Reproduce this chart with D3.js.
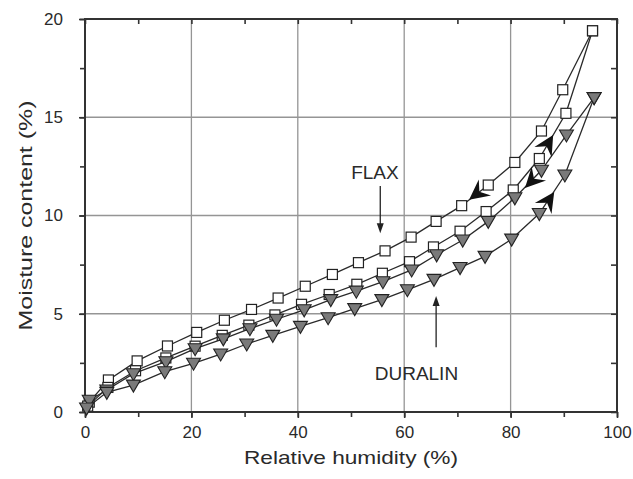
<!DOCTYPE html>
<html>
<head>
<meta charset="utf-8">
<script src="https://cdn.jsdelivr.net/npm/d3@7"></script>
<style>
  html, body { margin: 0; padding: 0; background: #fff; }
  svg { display: block; font-family: "Liberation Sans", Arial, Helvetica, sans-serif; }
</style>
</head>
<body>
<div id="chart"></div>
<script>
// relative humidity (%) / moisture content (%)
const flaxDesRH = [0.8, 4.4, 9.8, 15.5, 21, 26.2, 31.3, 36.3, 41.4, 46.5, 51.4, 56.4, 61.3, 66, 70.8, 75.8, 80.8, 85.8, 89.8, 95.4];
const flaxDesMC = [0.5, 1.63, 2.6, 3.36, 4.05, 4.67, 5.22, 5.8, 6.4, 7.0, 7.6, 8.2, 8.9, 9.7, 10.5, 11.55, 12.7, 14.3, 16.4, 19.4];

const flaxAbsRH = [0.5, 4.3, 9.5, 15.2, 20.7, 25.8, 30.8, 35.7, 40.7, 45.9, 51.1, 55.9, 61, 65.5, 70.5, 75.4, 80.5, 85.4, 90.4, 95.4];
const flaxAbsMC = [0.3, 1.25, 2.1, 2.75, 3.35, 3.9, 4.42, 4.94, 5.48, 5.98, 6.5, 7.06, 7.65, 8.4, 9.2, 10.2, 11.3, 12.9, 15.2, 19.4];

const duralinDesRH = [0.8, 4.1, 9.1, 15.2, 20.7, 26, 31, 36, 41.2, 46.2, 51, 56, 61.4, 66.1, 71, 75.8, 80.8, 85.8, 90.5, 95.7];
const duralinDesMC = [0.6, 1.12, 1.95, 2.56, 3.22, 3.72, 4.24, 4.72, 5.2, 5.72, 6.15, 6.63, 7.23, 8.0, 8.75, 9.7, 10.9, 12.3, 14.1, 16.0];

const duralinAbsRH = [0.3, 4.1, 9.1, 15, 20.4, 25.5, 30.4, 35.3, 40.5, 45.7, 50.7, 55.8, 60.6, 65.6, 70.5, 75.2, 80.2, 85.4, 90.2, 95.7];
const duralinAbsMC = [0.2, 1.0, 1.37, 2.05, 2.48, 2.95, 3.46, 3.9, 4.36, 4.8, 5.26, 5.72, 6.22, 6.75, 7.35, 7.92, 8.8, 10.1, 12.06, 16.0];

const xTicks = [0, 20, 40, 60, 80, 100];
const yTicks = [0, 5, 10, 15, 20];

// direction arrows sitting on the curves (rh, mc, which way)
const loopArrows = [
    {series: "flaxDes", rh: 72.2, mc: 10.8, dir: -1},
    {series: "flaxAbs", rh: 88.0, mc: 14.1, dir: 1},
    {series: "duralinDes", rh: 82.7, mc: 11.4, dir: -1},
    {series: "duralinAbs", rh: 88.2, mc: 11.2, dir: 1}
];

// labels with their pointer arrows
const labels = [
    {text: "FLAX", rh: 54.5, mc: 11.86, from: [55.5, 11.5], to: [55.5, 9.1]},
    {text: "DURALIN", rh: 62.3, mc: 1.63, from: [66, 3.3], to: [66, 5.9]}
];

const width = 633, height = 479;
const margin = {top: 19, right: 16, bottom: 67, left: 85};

const series = [
    {key: "flaxDes", rh: flaxDesRH, mc: flaxDesMC, marker: "square"},
    {key: "flaxAbs", rh: flaxAbsRH, mc: flaxAbsMC, marker: "square"},
    {key: "duralinDes", rh: duralinDesRH, mc: duralinDesMC, marker: "triangle"},
    {key: "duralinAbs", rh: duralinAbsRH, mc: duralinAbsMC, marker: "triangle"}
];

const svg = d3.select("#chart").append("svg")
    .attr("width", width)
    .attr("height", height);

const x = d3.scaleLinear().domain([0, 100]).range([margin.left, width - margin.right]);
const y = d3.scaleLinear().domain([0, 20]).range([height - margin.bottom, margin.top]);

// grid
svg.append("g")
    .attr("stroke", "#959595")
    .attr("stroke-width", 1.3)
    .call(g => g.selectAll(".gx").data(xTicks.slice(1, -1)).join("line")
        .attr("x1", d => x(d)).attr("x2", d => x(d))
        .attr("y1", y(0)).attr("y2", y(20)))
    .call(g => g.selectAll(".gy").data(yTicks.slice(1, -1)).join("line")
        .attr("class", "gy")
        .attr("x1", x(0)).attr("x2", x(100))
        .attr("y1", d => y(d)).attr("y2", d => y(d)));

// axes: bottom/left ticks outside, top/right ticks inside
const xMinor = d3.range(0, 101, 10);
const yMinor = d3.range(0, 20.1, 2.5);

function styleAxis(g) {
    g.select(".domain").remove();
    g.selectAll("line").attr("stroke", "#333").attr("stroke-width", 1.6);
    g.selectAll("text").attr("fill", "#2a2a2a").attr("font-size", 17);
}

svg.append("g")
    .attr("transform", `translate(0,${y(0)})`)
    .call(d3.axisBottom(x).tickValues(xMinor).tickSize(5).tickFormat(""))
    .call(styleAxis);
svg.append("g")
    .attr("transform", `translate(0,${y(0)})`)
    .call(d3.axisBottom(x).tickValues(xTicks).tickSize(6).tickPadding(8))
    .call(styleAxis);
svg.append("g")
    .attr("transform", `translate(0,${y(20)})`)
    .call(d3.axisBottom(x).tickValues(xMinor).tickSize(5).tickFormat(""))
    .call(styleAxis);

svg.append("g")
    .attr("transform", `translate(${x(0)},0)`)
    .call(d3.axisLeft(y).tickValues(yMinor).tickSize(5).tickFormat(""))
    .call(styleAxis);
svg.append("g")
    .attr("transform", `translate(${x(0)},0)`)
    .call(d3.axisLeft(y).tickValues(yTicks).tickSize(6).tickPadding(16))
    .call(styleAxis);
svg.append("g")
    .attr("transform", `translate(${x(100)},0)`)
    .call(d3.axisLeft(y).tickValues(yMinor).tickSize(6).tickFormat(""))
    .call(styleAxis);

// frame
svg.append("rect")
    .attr("x", x(0)).attr("y", y(20))
    .attr("width", x(100) - x(0)).attr("height", y(0) - y(20))
    .attr("fill", "none")
    .attr("stroke", "#333")
    .attr("stroke-width", 2);

// axis titles
svg.append("text")
    .attr("x", (x(0) + x(100)) / 2)
    .attr("y", 464)
    .attr("text-anchor", "middle")
    .attr("font-size", 19)
    .attr("fill", "#2a2a2a")
    .attr("textLength", 214)
    .attr("lengthAdjust", "spacingAndGlyphs")
    .text("Relative humidity (%)");

svg.append("text")
    .attr("transform", `translate(32,${(y(0) + y(20)) / 2}) rotate(-90)`)
    .attr("text-anchor", "middle")
    .attr("font-size", 19)
    .attr("fill", "#2a2a2a")
    .attr("textLength", 230)
    .attr("lengthAdjust", "spacingAndGlyphs")
    .text("Moisture content (%)");

// curves
const line = d3.line().x(d => x(d[0])).y(d => y(d[1]));

series.forEach(s => {
    s.points = s.rh.map((v, i) => [v, s.mc[i]]);
});

const plot = svg.append("g");

series.forEach(s => {
    const g = plot.append("g");
    g.append("path")
        .datum(s.points)
        .attr("fill", "none")
        .attr("stroke", "#2a2a2a")
        .attr("stroke-width", 1.3)
        .attr("d", line);

    if (s.marker === "square") {
        g.selectAll("rect")
            .data(s.points)
            .join("rect")
            .attr("x", d => x(d[0]) - 5)
            .attr("y", d => y(d[1]) - 5)
            .attr("width", 10)
            .attr("height", 10)
            .attr("fill", "#fff")
            .attr("stroke", "#222")
            .attr("stroke-width", 1.2);
    } else {
        g.selectAll("path.tri")
            .data(s.points)
            .join("path")
            .attr("class", "tri")
            .attr("d", "M-7,-5L7,-5L0,7Z")
            .attr("transform", d => `translate(${x(d[0])},${y(d[1])})`)
            .attr("fill", "#7a7a7a")
            .attr("stroke", "#222")
            .attr("stroke-width", 1.1);
    }
});

// direction arrowheads, angle taken from the segment they sit on
plot.selectAll("path.loop")
    .data(loopArrows)
    .join("path")
    .attr("class", "loop")
    .attr("d", "M0,0L-20,-10L-13,0L-20,10Z")
    .attr("fill", "#111")
    .attr("transform", d => {
        const s = series.find(e => e.key === d.series);
        let i = s.rh.findIndex(v => v > d.rh);
        const a = s.points[i - 1], b = s.points[i];
        let ang = Math.atan2(y(b[1]) - y(a[1]), x(b[0]) - x(a[0])) * 180 / Math.PI;
        if (d.dir < 0) ang += 180;
        return `translate(${x(d.rh)},${y(d.mc)}) rotate(${ang})`;
    });

// labels
const lab = svg.append("g");
lab.selectAll("text")
    .data(labels)
    .join("text")
    .attr("x", d => x(d.rh))
    .attr("y", d => y(d.mc))
    .attr("text-anchor", "middle")
    .attr("font-size", 19)
    .attr("fill", "#2a2a2a")
    .text(d => d.text);

lab.selectAll("line")
    .data(labels)
    .join("line")
    .attr("x1", d => x(d.from[0])).attr("y1", d => y(d.from[1]))
    .attr("x2", d => x(d.to[0])).attr("y2", d => y(d.to[1]) + (d.to[1] < d.from[1] ? -6 : 6))
    .attr("stroke", "#222")
    .attr("stroke-width", 1.3);

lab.selectAll("path")
    .data(labels)
    .join("path")
    .attr("d", "M0,0L-10,-3.5L-10,3.5Z")
    .attr("fill", "#222")
    .attr("transform", d => {
        const ang = d.to[1] < d.from[1] ? 90 : -90;
        return `translate(${x(d.to[0])},${y(d.to[1])}) rotate(${ang})`;
    });
</script>
</body>
</html>
